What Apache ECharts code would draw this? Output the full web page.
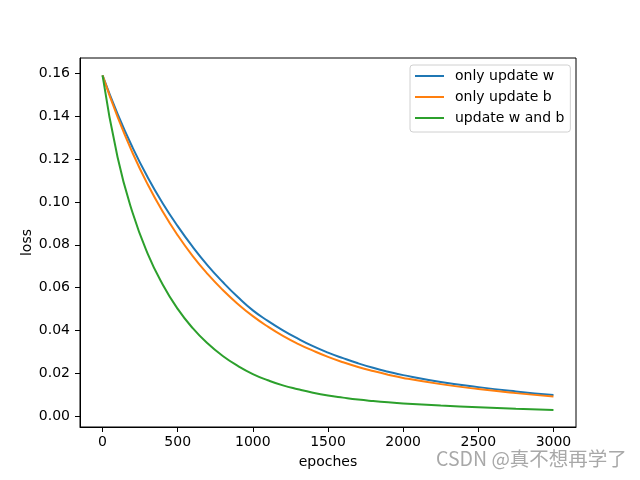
<!DOCTYPE html>
<html>
<head>
<meta charset="utf-8">
<script src="https://cdn.jsdelivr.net/npm/echarts@6/dist/echarts.min.js"></script>
<style>html,body{margin:0;padding:0;background:#fff}#c{width:640px;height:480px}</style>
</head>
<body>
<div id="c"></div>
<script>
const epochs = [0,100,200,300,400,500,600,700,800,900,1000,1100,1200,1300,1400,1500,1600,1700,1800,1900,2000,2250,2500,2750,3000];
const onlyW  = [0.159,0.1410,0.1253,0.1115,0.0994,0.0887,0.0790,0.0703,0.0626,0.0556,0.0494,0.0445,0.0401,0.0362,0.0327,0.0297,0.0271,0.0247,0.0226,0.0208,0.0192,0.0160,0.0136,0.0116,0.0099];
const onlyB  = [0.159,0.1396,0.1228,0.1082,0.0955,0.0844,0.0747,0.0663,0.0589,0.0524,0.0467,0.0418,0.0375,0.0338,0.0306,0.0277,0.0252,0.0230,0.0211,0.0194,0.0179,0.0150,0.0127,0.0108,0.0092];
const both   = [0.159,0.1208,0.0949,0.0759,0.0615,0.0501,0.0411,0.0339,0.0281,0.0235,0.0197,0.0168,0.0144,0.0126,0.0110,0.0097,0.0087,0.0078,0.0071,0.0065,0.0060,0.0050,0.0042,0.0035,0.0029];
const seriesNames = ['only update w','only update b','update w and b'];
const xTicks = [0,500,1000,1500,2000,2500,3000];
const yTicks = [0,0.02,0.04,0.06,0.08,0.10,0.12,0.14,0.16];
const colors = ['#1f77b4','#ff7f0e','#2ca02c'];

const font = 'DejaVu Sans';
const pairs = arr => epochs.map((e,i)=>[e,arr[i]]);
const chart = echarts.init(document.getElementById('c'), null, {renderer:'canvas'});
chart.setOption({
  animation:false,
  backgroundColor:'#fff',
  color: colors,
  textStyle:{fontFamily:font},
  grid:{left:80,right:64,top:58,bottom:53,show:true,borderColor:'#000',borderWidth:1,backgroundColor:'transparent'},
  legend:{
    left:410, top:65, orient:'vertical',
    itemWidth:29, itemHeight:2, itemGap:7,
    icon:'rect',
    padding:[4,6,7,5],
    borderColor:'#d0d0d0', borderWidth:1, borderRadius:3,
    backgroundColor:'rgba(255,255,255,0.8)',
    textStyle:{fontFamily:font,fontSize:14,color:'#000',padding:[0,0,0,6]},
    data: seriesNames
  },
  xAxis:{
    type:'value', min:-150, max:3150,
    name:'epoches', nameLocation:'middle', nameGap:28, nameMoveOverlap:false,
    nameTextStyle:{fontFamily:font,fontSize:14,color:'#000'},
    axisLine:{show:true,onZero:false,lineStyle:{color:'#000',width:1}},
    axisTick:{show:true,inside:false,length:5,lineStyle:{color:'#000'},customValues:xTicks},
    axisLabel:{color:'#000',fontFamily:font,fontSize:14,margin:8,customValues:xTicks,formatter:v=>String(v)},
    splitLine:{show:false}
  },
  yAxis:{
    type:'value', min:-0.005, max:0.1671,
    name:'loss', nameLocation:'middle', nameGap:46, nameRotate:90, nameMoveOverlap:false,
    nameTextStyle:{fontFamily:font,fontSize:14,color:'#000'},
    axisLine:{show:true,onZero:false,lineStyle:{color:'#000',width:1}},
    axisTick:{show:true,inside:false,length:5,lineStyle:{color:'#000'},customValues:yTicks},
    axisLabel:{color:'#000',fontFamily:font,fontSize:14,margin:10,customValues:yTicks,
      formatter:v=>v.toFixed(2)},
    splitLine:{show:false}
  },
  series:[onlyW,onlyB,both].map((arr,i)=>({
    name:seriesNames[i], type:'line', data:pairs(arr), smooth:0.5,
    showSymbol:false, symbol:'none', lineStyle:{width:2,color:colors[i]}, itemStyle:{color:colors[i]}
  })),
  graphic:[{
    type:'text', left:436, top:449,
    style:{text:'CSDN @真不想再学了', fontFamily:'Noto Sans CJK SC', fontSize:19.5, fill:'#a8a8a8'}
  }]
});
</script>
</body>
</html>
